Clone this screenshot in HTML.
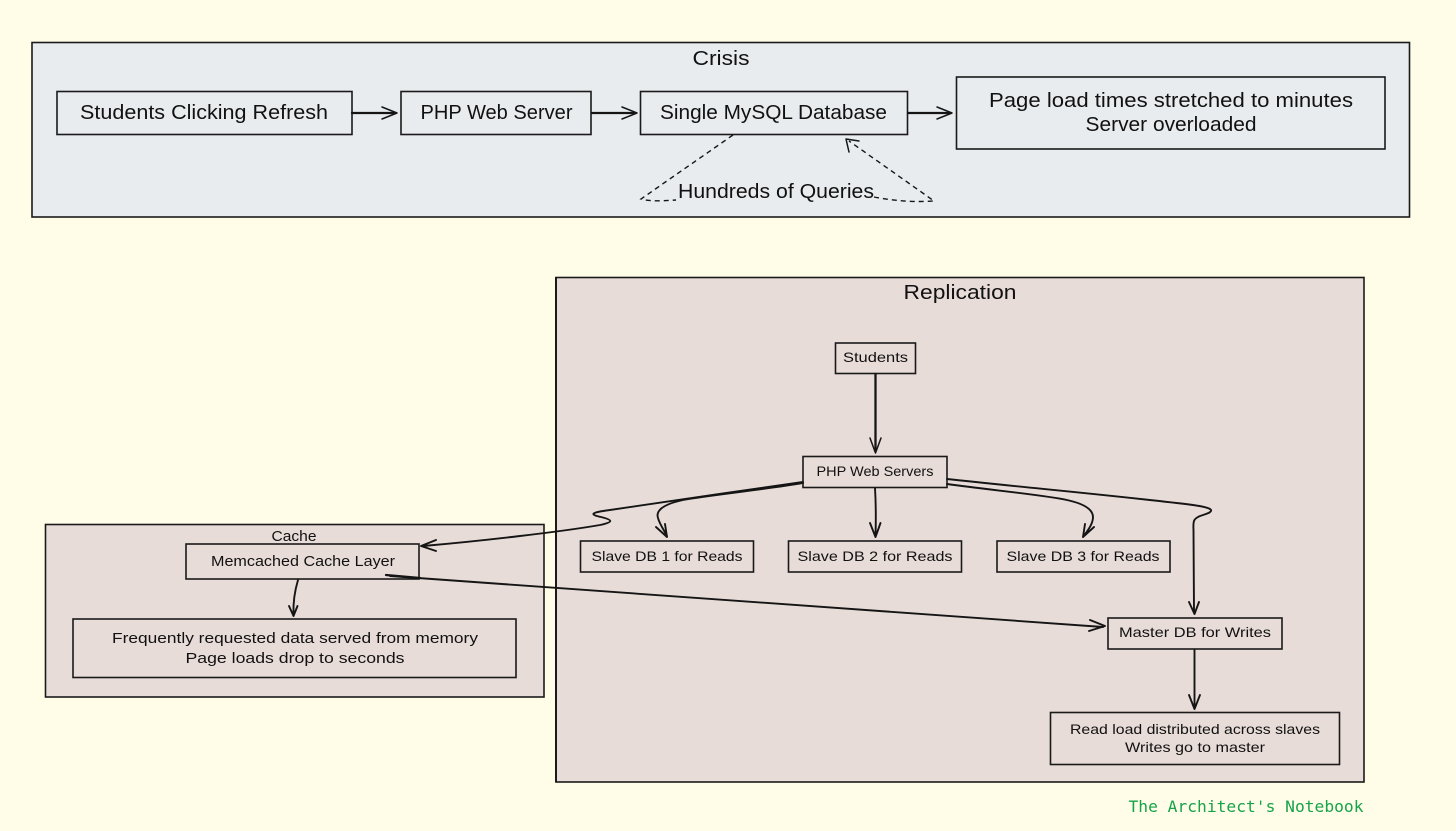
<!DOCTYPE html>
<html lang="en">
<head>
<meta charset="utf-8">
<title>Diagram</title>
<style>
html,body{margin:0;padding:0;background:#fffde8;}
body{width:1456px;height:831px;overflow:hidden;}
svg{display:block;}
text{font-family:"Liberation Sans",sans-serif;fill:#111;text-anchor:middle;}
.b{stroke:#1a1a1a;stroke-width:1.6;}
.l{fill:none;stroke:#151515;stroke-width:1.9;stroke-linecap:round;stroke-linejoin:round;}
.t{fill:none;stroke:#151515;stroke-width:2.300;stroke-linecap:round;stroke-linejoin:round;}
.h{fill:none;stroke:#151515;stroke-width:1.500;stroke-linecap:round;stroke-linejoin:round;}
.d{fill:none;stroke:#151515;stroke-width:1.400;stroke-dasharray:5 4;}
</style>
</head>
<body>
<svg width="1456" height="831" viewBox="0 0 1456 831" xmlns="http://www.w3.org/2000/svg">
<rect width="1456" height="831" fill="#fffde8"/>

<!-- Crisis -->
<rect class="b" x="32" y="42.500" width="1377.500" height="174.500" fill="#e9ecef"/>
<text x="721" y="65" font-size="20" textLength="57" lengthAdjust="spacingAndGlyphs">Crisis</text>
<rect class="b" x="57" y="91.500" width="295" height="43" fill="#e9ecef"/>
<text x="204" y="119" font-size="20" textLength="248" lengthAdjust="spacingAndGlyphs">Students Clicking Refresh</text>
<rect class="b" x="401" y="91.500" width="190" height="43" fill="#e9ecef"/>
<text x="496.500" y="119" font-size="20" textLength="152" lengthAdjust="spacingAndGlyphs">PHP Web Server</text>
<rect class="b" x="640.500" y="91.500" width="267" height="43" fill="#e9ecef"/>
<text x="773.500" y="119" font-size="20" textLength="227" lengthAdjust="spacingAndGlyphs">Single MySQL Database</text>
<rect class="b" x="956.500" y="77" width="428.500" height="72" fill="#e9ecef"/>
<text x="1171" y="107" font-size="20" textLength="364" lengthAdjust="spacingAndGlyphs">Page load times stretched to minutes</text>
<text x="1171" y="131" font-size="20" textLength="171" lengthAdjust="spacingAndGlyphs">Server overloaded</text>

<path class="t" d="M352 113H395"/>
<path class="h" d="M382 107L397 113L382 119"/>
<path class="t" d="M592 113H634"/>
<path class="h" d="M622 107L637 113L622 119"/>
<path class="t" d="M908 113H949"/>
<path class="h" d="M937 107L952 113L937 119"/>

<path class="d" d="M733 135L641 199Q650 202 676 200"/>
<path class="d" d="M874 197Q905 203 934 201L849 141"/>
<path class="h" d="M846 139L849 152M846 139L859 141"/>
<text x="776" y="198" font-size="20" textLength="196" lengthAdjust="spacingAndGlyphs">Hundreds of Queries</text>

<!-- Replication -->
<rect class="b" x="556" y="277.500" width="808" height="504.500" fill="#e8dcd8"/>
<text x="960" y="299" font-size="20" textLength="113" lengthAdjust="spacingAndGlyphs">Replication</text>

<!-- Cache -->
<rect class="b" x="45.500" y="524.500" width="498.500" height="172.500" fill="#e8dcd8"/>
<text x="294" y="541" font-size="15" textLength="45" lengthAdjust="spacingAndGlyphs">Cache</text>

<path d="M556 277V782" stroke="#1a1a1a" stroke-width="2" fill="none"/>

<!-- Nodes -->
<rect class="b" x="835.500" y="343" width="80" height="30.500" fill="#e8dcd8"/>
<text x="875.500" y="362" font-size="14" textLength="65" lengthAdjust="spacingAndGlyphs">Students</text>
<rect class="b" x="803" y="456.500" width="144" height="31" fill="#e8dcd8"/>
<text x="875" y="476" font-size="14" textLength="117" lengthAdjust="spacingAndGlyphs">PHP Web Servers</text>
<rect class="b" x="580.500" y="541" width="173" height="31" fill="#e8dcd8"/>
<text x="667" y="561" font-size="14" textLength="151" lengthAdjust="spacingAndGlyphs">Slave DB 1 for Reads</text>
<rect class="b" x="788.500" y="541" width="173" height="31" fill="#e8dcd8"/>
<text x="875" y="561" font-size="14" textLength="155" lengthAdjust="spacingAndGlyphs">Slave DB 2 for Reads</text>
<rect class="b" x="997" y="541" width="173" height="31" fill="#e8dcd8"/>
<text x="1083" y="561" font-size="14" textLength="153" lengthAdjust="spacingAndGlyphs">Slave DB 3 for Reads</text>
<rect class="b" x="1108" y="618" width="174" height="31" fill="#e8dcd8"/>
<text x="1195" y="637" font-size="14" textLength="152" lengthAdjust="spacingAndGlyphs">Master DB for Writes</text>
<rect class="b" x="1050.500" y="712.500" width="289" height="52" fill="#e8dcd8"/>
<text x="1195" y="734" font-size="14" textLength="250" lengthAdjust="spacingAndGlyphs">Read load distributed across slaves</text>
<text x="1195" y="752" font-size="14" textLength="140" lengthAdjust="spacingAndGlyphs">Writes go to master</text>
<rect class="b" x="186" y="544" width="233" height="35" fill="#e8dcd8"/>
<text x="303" y="566" font-size="15" textLength="184" lengthAdjust="spacingAndGlyphs">Memcached Cache Layer</text>
<rect class="b" x="73" y="619" width="443" height="58.500" fill="#e8dcd8"/>
<text x="295" y="643" font-size="15" textLength="366" lengthAdjust="spacingAndGlyphs">Frequently requested data served from memory</text>
<text x="295" y="663" font-size="15" textLength="219" lengthAdjust="spacingAndGlyphs">Page loads drop to seconds</text>

<!-- Connectors -->
<path class="t" d="M875.500 374V450"/>
<path class="h" d="M870 438L875.500 453L881 438"/>
<path class="l" d="M803 482C740 491 640 505 603 511C590 513 591 515 601 517C613 520 614 522 600 525C560 532 480 541 423 546M436 540L421 546L436 551"/>
<path class="l" d="M803 483C770 489 710 495 683 500C660 505 656 512 658 518C660 525 664 530 667 536M656 527L667 537L665 524"/>
<path class="l" d="M875 488C876 505 876 520 875.500 536M870 523L875.500 537L880.500 523"/>
<path class="l" d="M947 484C990 490 1045 495 1067 500C1085 504 1093 510 1093 517C1093 524 1088 530 1083 537M1083 537L1094 527M1083 537L1085 524"/>
<path class="l" d="M947 479C1020 487 1130 497 1193 505C1214 508 1216 511 1203 515C1193 518 1193 521 1193.500 530L1194 612M1189 602L1194.500 614L1199 602"/>
<path class="t" d="M386 575L420 578"/>
<path class="l" d="M390 576L1103 627M1090 620L1105 626L1089 631"/>
<path class="l" d="M298 580C295 590 293 600 293.500 614M289 606L293.500 616L297.500 606"/>
<path class="l" d="M1194.500 650V707M1189 695L1194.500 709L1200 695"/>

<text x="1246" y="812" style="font-family:'DejaVu Sans Mono','Liberation Mono',monospace;fill:#16a34a;" font-size="16" textLength="235" lengthAdjust="spacingAndGlyphs">The Architect's Notebook</text>
</svg>
</body>
</html>
